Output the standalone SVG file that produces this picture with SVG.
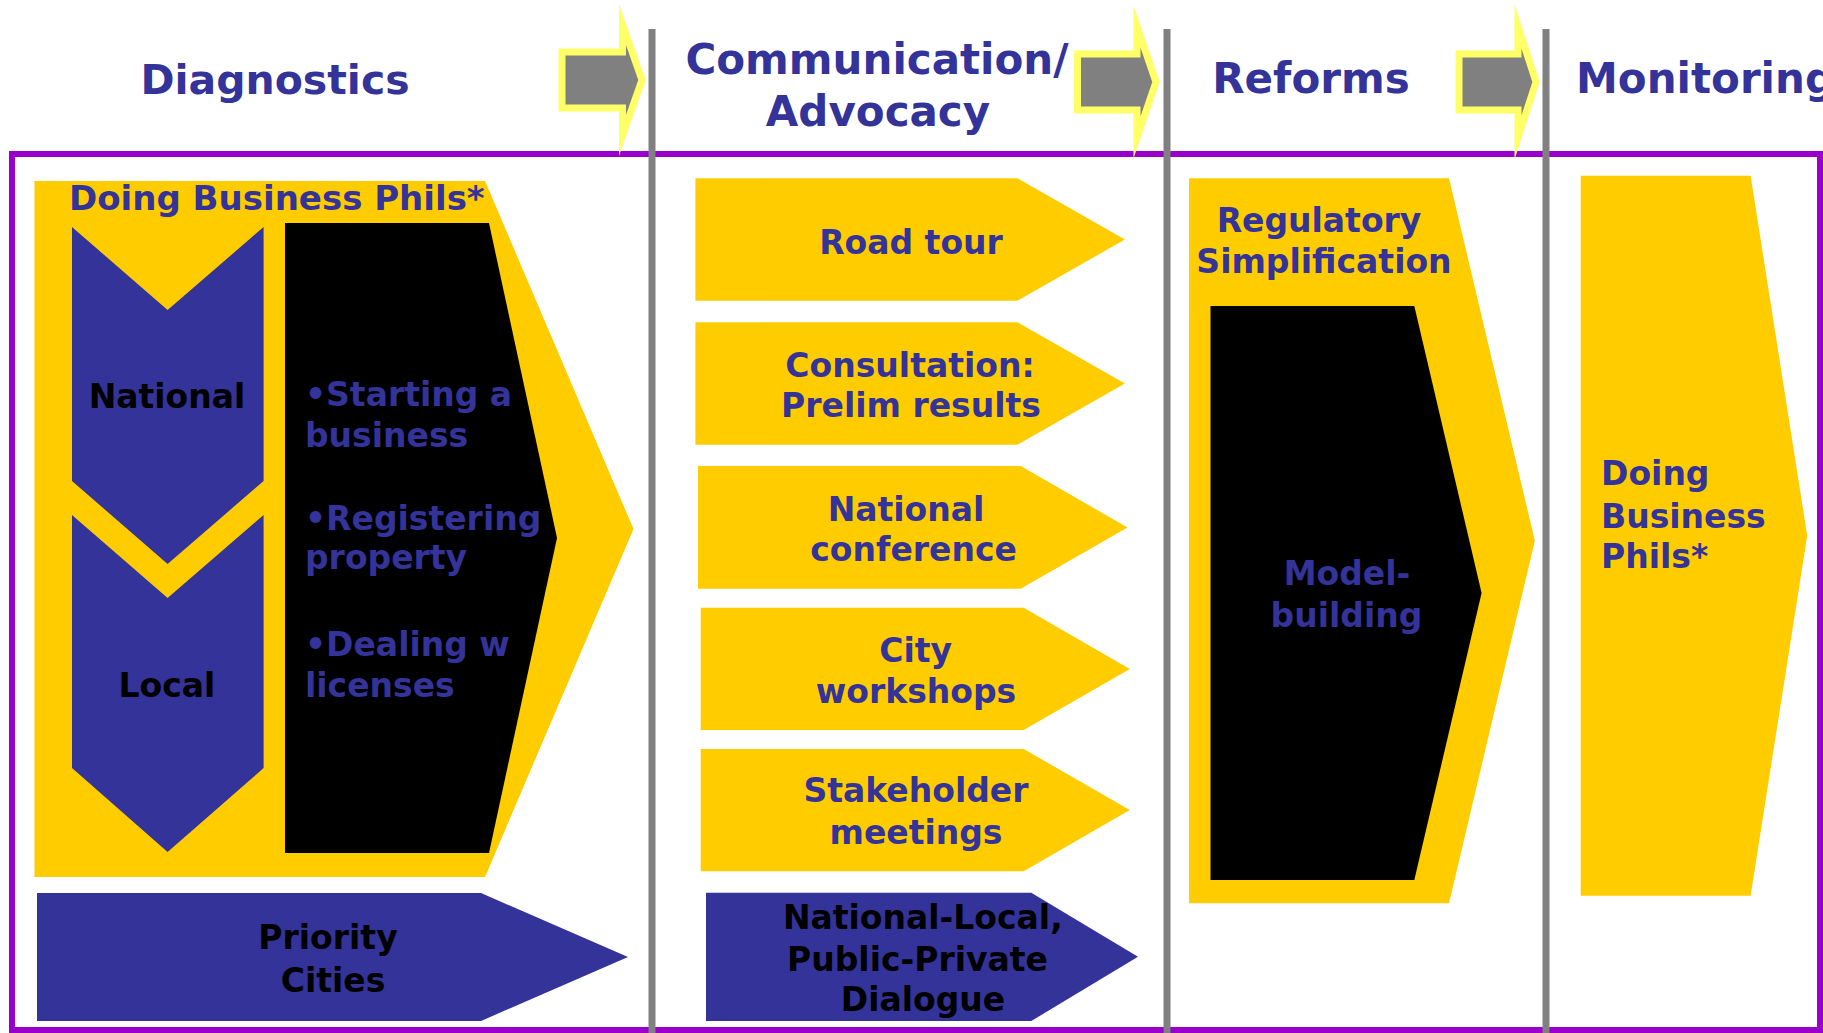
<svg xmlns="http://www.w3.org/2000/svg" width="1823" height="1033" viewBox="0 0 1823 1033">
<style>
  .t { font-family: "DejaVu Sans", Verdana, sans-serif; font-weight: bold; }
  .hd { font-size: 42px; fill: #333399; }
  .bl { font-size: 33px; fill: #333399; }
  .bk { font-size: 33px; fill: #000000; }
  .m { text-anchor: middle; }
  .yel { fill: #FFCC00; }
  .blu { fill: #333399; }
  .blk { fill: #000000; }
  .hdarrow { fill: #808080; stroke: #FFFF66; stroke-width: 7; stroke-miterlimit: 10; stroke-linejoin: miter; }
  .div { stroke: #808080; stroke-width: 7; }
</style>
<rect x="0" y="0" width="1823" height="1033" fill="#FFFFFF"/>

<g id="frame">
  <rect x="12" y="154" width="1808" height="876" fill="none" stroke="#9900CC" stroke-width="6"/>
</g>

<g id="dividers">
  <line class="div" x1="652" y1="29" x2="652" y2="1033"/>
  <line class="div" x1="1167" y1="29" x2="1167" y2="1033"/>
  <line class="div" x1="1546" y1="29" x2="1546" y2="1033"/>
</g>

<g id="headers">
  <text class="t hd m" x="275" y="94" style="font-size:41px">Diagnostics</text>
  <text class="t hd m" x="877" y="74">Communication/</text>
  <text class="t hd m" x="878" y="126">Advocacy</text>
  <text class="t hd m" x="1311" y="93">Reforms</text>
  <text class="t hd" x="1576" y="93">Monitoring</text>
</g>

<g id="connectors">
  <path class="hdarrow" d="M562,52 H622.5 V24.5 L642,80 L622.5,135.5 V108 H562 Z"/>
  <path class="hdarrow" d="M1077.5,54 H1137 V26.5 L1156,82 L1137,137.5 V110 H1077.5 Z"/>
  <path class="hdarrow" d="M1459,54 H1518 V26.5 L1536,82 L1518,137.5 V110 H1459 Z"/>
</g>

<g id="doing-business-diag">
  <polygon class="yel" points="34.5,181 485,181 633.5,529 485,877 34.5,877"/>
  <text class="t bl" x="69" y="210" style="font-size:34px">Doing Business Phils*</text>
</g>

<g id="national">
  <polygon class="blu" points="72,227 167.6,310 263.6,227 263.6,481 167.6,564 72,481"/>
  <text class="t bk m" x="167" y="408">National</text>
</g>

<g id="local">
  <polygon class="blu" points="72,515 167.6,598 263.6,515 263.6,768 167.6,852 72,768"/>
  <text class="t bk m" x="167" y="697">Local</text>
</g>

<g id="indicators">
  <polygon class="blk" points="285,223 489,223 557,538 489,853 285,853"/>
  <text class="t bl" x="305" y="406">•Starting a</text>
  <text class="t bl" x="305" y="447">business</text>
  <text class="t bl" x="305" y="530">•Registering</text>
  <text class="t bl" x="305" y="569">property</text>
  <text class="t bl" x="305" y="656">•Dealing w</text>
  <text class="t bl" x="305" y="697">licenses</text>
</g>

<g id="priority-cities">
  <polygon class="blu" points="37,893 481,893 628,957 481,1021 37,1021"/>
  <text class="t bk m" x="328" y="949">Priority</text>
  <text class="t bk m" x="333" y="992">Cities</text>
</g>

<g id="road-tour">
  <polygon class="yel" points="695.4,178.3 1017.4,178.3 1124.9,239.5 1017.4,300.7 695.4,300.7"/>
  <text class="t bl m" x="911" y="254">Road tour</text>
</g>

<g id="consultation">
  <polygon class="yel" points="695.4,322.3 1017.4,322.3 1124.9,383.5 1017.4,444.7 695.4,444.7"/>
  <text class="t bl m" x="910" y="377">Consultation:</text>
  <text class="t bl m" x="911" y="417">Prelim results</text>
</g>

<g id="national-conference">
  <polygon class="yel" points="698,466 1020.7,466 1127.5,527.5 1020.7,588.7 698,588.7"/>
  <text class="t bl m" x="906" y="521">National</text>
  <text class="t bl m" x="913.6" y="561">conference</text>
</g>

<g id="city-workshops">
  <polygon class="yel" points="700.7,607.7 1023.7,607.7 1129.8,669 1023.7,730 700.7,730"/>
  <text class="t bl m" x="915.6" y="662">City</text>
  <text class="t bl m" x="916" y="703">workshops</text>
</g>

<g id="stakeholder-meetings">
  <polygon class="yel" points="700.7,749 1023.7,749 1129.8,810 1023.7,871.3 700.7,871.3"/>
  <text class="t bl m" x="916" y="802">Stakeholder</text>
  <text class="t bl m" x="916" y="844">meetings</text>
</g>

<g id="dialogue">
  <polygon class="blu" points="706,892.7 1031.3,892.7 1138,956.8 1031.3,1021 706,1021"/>
  <text class="t bk m" x="922.8" y="929">National-Local,</text>
  <text class="t bk m" x="917.5" y="971">Public-Private</text>
  <text class="t bk m" x="923" y="1011">Dialogue</text>
</g>

<g id="regulatory-simplification">
  <polygon class="yel" points="1189,178.3 1449,178.3 1534.8,540.8 1449,903.3 1189,903.3"/>
  <text class="t bl m" x="1319" y="232">Regulatory</text>
  <text class="t bl m" x="1324" y="273">Simplification</text>
</g>

<g id="model-building">
  <polygon class="blk" points="1210.5,306 1414.3,306 1481.6,593 1414.3,880 1210.5,880"/>
  <text class="t bl m" x="1347" y="585">Model-</text>
  <text class="t bl m" x="1346.5" y="627">building</text>
</g>

<g id="doing-business-monitoring">
  <polygon class="yel" points="1580.7,175.7 1750.6,175.7 1807.2,535.7 1750.6,895.7 1580.7,895.7"/>
  <text class="t bl" x="1601" y="485">Doing</text>
  <text class="t bl" x="1601" y="528">Business</text>
  <text class="t bl" x="1601" y="568">Phils*</text>
</g>
</svg>
